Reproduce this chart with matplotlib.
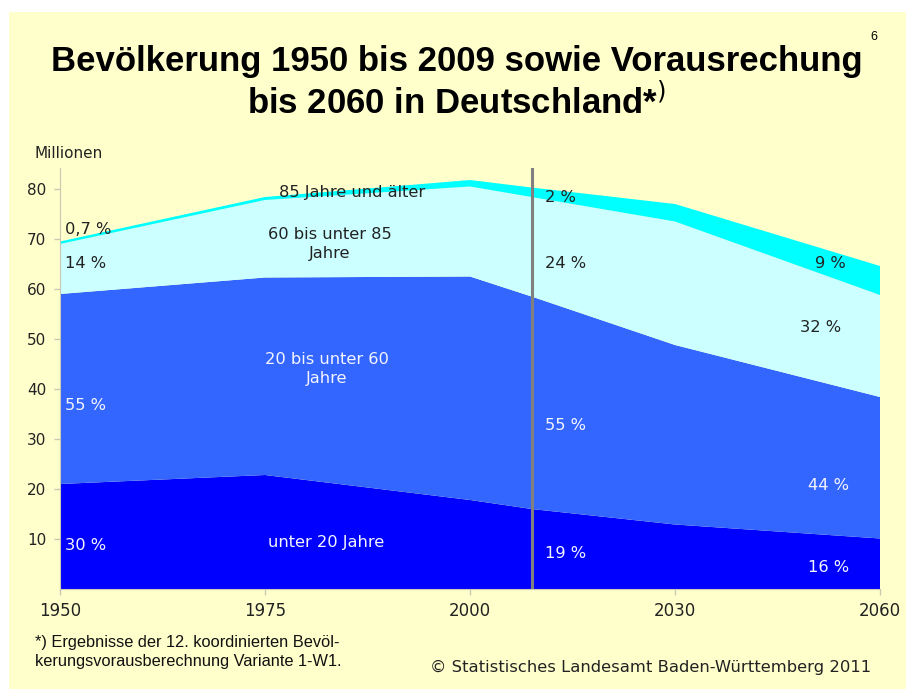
import numpy as np
import matplotlib
matplotlib.use("Agg")
from matplotlib import pyplot as plt
from matplotlib.patches import Rectangle

# data (millions)
years = [1950, 1975, 2000, 2009, 2030, 2060]
tick_years = [1950, 1975, 2000, 2030, 2060]
unter_20 = [21.0, 22.8, 17.8, 16.0, 12.9, 10.1]
von_20_60 = [38.0, 39.5, 44.7, 42.5, 35.9, 28.3]
von_60_85 = [10.0, 15.5, 18.0, 19.9, 24.7, 20.4]
ab_85 = [0.5, 0.6, 1.3, 1.9, 3.5, 5.8]
colors = ["#0000FF", "#3366FF", "#CCFFFF", "#00FFFF"]

# x axis is evenly spaced per tick year, linear in between
pos = np.interp(years, tick_years, np.arange(len(tick_years)))

W, H = 906, 689
fig = plt.figure(figsize=(W / 100, H / 100), dpi=100, facecolor="white")
fig.patches.append(Rectangle((9 / W, 0), 1, 677 / H, transform=fig.transFigure,
                             facecolor="#FFFFCC", edgecolor="none", zorder=-1))

ax = fig.add_axes([60 / W, 100 / H, 820 / W, 421 / H])
ax.set_facecolor("none")
ax.stackplot(pos, unter_20, von_20_60, von_60_85, ab_85, colors=colors, lw=0)
ax.axvline(np.interp(2009, tick_years, np.arange(len(tick_years))), color="#808080", lw=2.2)

ax.set_xlim(0, len(tick_years) - 1)
ax.set_ylim(0, 84.2)
ax.set_yticks(range(10, 81, 10))
ax.set_xticks(np.arange(len(tick_years)))
ax.set_xticklabels([str(y) for y in tick_years])
ax.tick_params(axis="both", colors="#C8C8B4", labelcolor="#222222", labelsize=11, length=4, width=1)
ax.tick_params(axis="x", pad=5, labelsize=12)
ax.tick_params(axis="y", pad=6)
for s in ["top", "right"]:
    ax.spines[s].set_visible(False)
ax.spines["left"].set_color("#C8C8B4")
ax.spines["bottom"].set_color("#C8C8B4")

fig.text(35 / W, 1 - 153 / H, "Millionen", fontsize=11, color="#222222", va="center")


def px(x, y):
    return (x - 60) / 205, (589 - y) / 5


dark = "#222222"
light = "#F4F4FF"
labels = [
    (65, 230, "0,7 %", dark, "left"),
    (65, 264, "14 %", dark, "left"),
    (65, 405, "55 %", light, "left"),
    (65, 545, "30 %", light, "left"),
    (352, 192, "85 Jahre und älter", dark, "center"),
    (330, 244, "60 bis unter 85\nJahre", dark, "center"),
    (327, 369, "20 bis unter 60\nJahre", light, "center"),
    (326, 543, "unter 20 Jahre", light, "center"),
    (545, 198, "2 %", dark, "left"),
    (545, 264, "24 %", dark, "left"),
    (545, 426, "55 %", light, "left"),
    (545, 553, "19 %", light, "left"),
    (815, 264, "9 %", dark, "left"),
    (800, 327, "32 %", dark, "left"),
    (808, 486, "44 %", light, "left"),
    (808, 567, "16 %", light, "left"),
]
for x, y, t, c, ha in labels:
    xx, yy = px(x, y)
    ax.text(xx, yy, t, color=c, ha=ha, va="center", fontsize=11.7, linespacing=1.4)

title_font = ["Liberation Sans Narrow", "Liberation Sans"]
fig.text(457 / W, 1 - 62 / H, "Bevölkerung 1950 bis 2009 sowie Vorausrechung",
         family=title_font, weight="bold", fontsize=25, ha="center", va="center")
fig.text(457 / W, 1 - 102 / H, "bis 2060 in Deutschland*$^{)}$",
         family=title_font, weight="bold", fontsize=25, ha="center", va="center")
fig.text(874 / W, 1 - 37 / H, "6", family="Liberation Sans", fontsize=9, ha="center", va="center")

fig.text(35 / W, 1 - 652 / H, "*) Ergebnisse der 12. koordinierten Bevöl-\nkerungsvorausberechnung Variante 1-W1.",
         family="Liberation Sans", fontsize=11.8, va="center", linespacing=1.3, color="#111111")
fig.text(430 / W, 1 - 667 / H, "© Statistisches Landesamt Baden-Württemberg 2011",
         fontsize=11.8, va="center", color="#222222")

fig.savefig("out.png", dpi=100, facecolor=fig.get_facecolor())
